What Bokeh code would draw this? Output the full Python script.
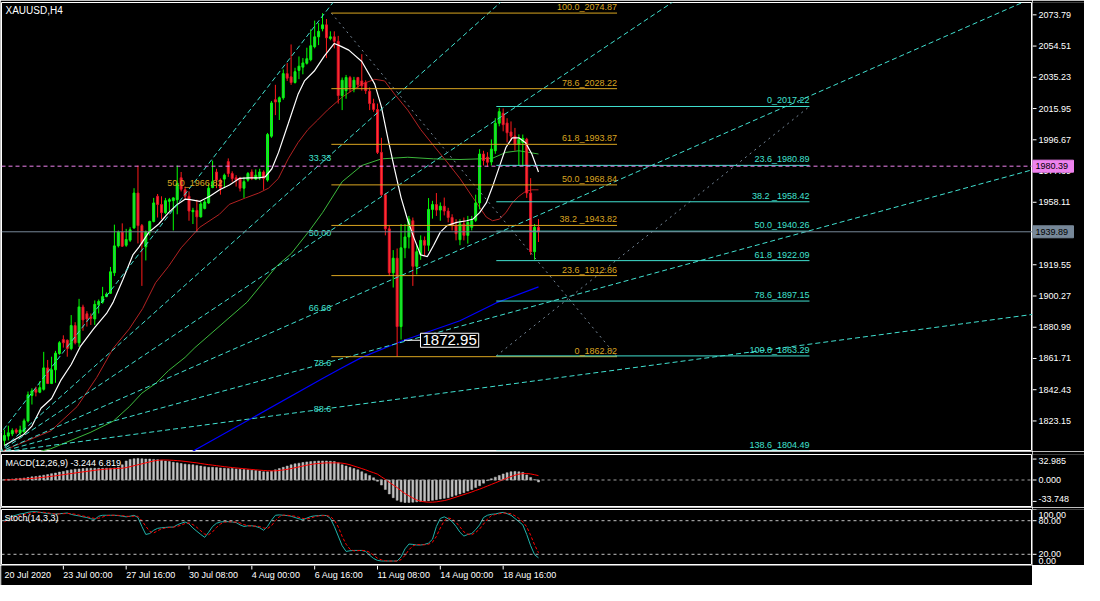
from bokeh.plotting import figure
from bokeh.layouts import column, row
from bokeh.models import ColumnDataSource, FixedTicker, Range1d, Label, Span
from bokeh.embed import file_html
from bokeh.resources import INLINE
from bokeh.core.properties import value

# ---------------- data ----------------
chart_title = "XAUUSD,H4"

opens = [
    1811.2, 1813.8, 1815.2, 1817.6, 1815.8, 1816.6, 1823.2, 1838.9, 1842.7, 1840.9,
    1842.7, 1855.9, 1846.3, 1854.7, 1864.8, 1873.4, 1873.0, 1867.8, 1882.0, 1871.4,
    1893.5, 1889.3, 1887.5, 1886.1, 1894.9, 1896.5, 1899.9, 1901.9, 1914.6, 1931.2,
    1939.7, 1931.6, 1934.7, 1942.3, 1963.8, 1943.7, 1930.6, 1939.7, 1946.3, 1961.8,
    1956.7, 1951.7, 1958.7, 1959.1, 1959.7, 1973.2, 1965.8, 1961.8, 1952.3, 1953.1,
    1949.1, 1954.3, 1957.7, 1967.2, 1976.8, 1971.8, 1972.4, 1983.2, 1975.8, 1973.2,
    1972.8, 1966.8, 1971.8, 1976.8, 1972.4, 1973.8, 1976.8, 1971.8, 1998.9, 2021.4,
    2020.0, 2022.6, 2037.5, 2035.5, 2032.0, 2039.5, 2041.5, 2043.9, 2046.1, 2054.1,
    2060.2, 2065.2, 2067.6, 2059.2, 2060.2, 2057.5, 2024.0, 2027.0, 2035.1, 2028.0,
    2035.1, 2033.0, 2032.0, 2026.6, 2019.0, 2015.4, 1988.9, 1962.8, 1941.7, 1914.6,
    1923.6, 1881.4, 1930.0, 1936.7, 1946.7, 1918.6, 1926.0, 1934.6, 1931.6, 1953.7,
    1956.7, 1953.3, 1955.7, 1952.7, 1948.7, 1943.7, 1935.0, 1944.7, 1937.7, 1942.7,
    1947.0, 1957.7, 1987.9, 1986.0, 1983.0, 1989.9, 2006.9, 2013.0, 2007.0, 2001.5,
    1999.0, 1994.0, 1995.0, 1997.0, 1963.8, 1927.6, 1942.7]
highs = [
    1817.8, 1820.2, 1818.6, 1818.6, 1820.2, 1824.6, 1841.3, 1843.3, 1844.3, 1847.7,
    1865.8, 1860.8, 1862.8, 1866.4, 1872.4, 1876.0, 1873.4, 1888.5, 1884.1, 1898.5,
    1894.9, 1890.9, 1889.5, 1897.5, 1898.1, 1905.9, 1902.5, 1918.2, 1944.3, 1940.7,
    1945.1, 1941.7, 1942.7, 1966.8, 1980.8, 1944.7, 1940.7, 1946.7, 1960.8, 1963.2,
    1961.8, 1960.8, 1960.8, 1961.2, 1980.8, 1976.8, 1967.8, 1964.8, 1954.7, 1959.7,
    1958.7, 1959.7, 1969.8, 1983.8, 1978.8, 1972.8, 1975.8, 1985.2, 1977.2, 1974.8,
    1973.8, 1973.8, 1976.8, 1978.4, 1978.4, 1978.8, 1977.8, 2000.9, 2020.6, 2030.6,
    2023.4, 2040.1, 2044.1, 2055.5, 2041.1, 2048.1, 2047.1, 2053.5, 2064.8, 2070.2,
    2068.8, 2074.8, 2071.2, 2063.6, 2063.6, 2060.8, 2035.1, 2036.7, 2036.1, 2035.5,
    2035.5, 2049.5, 2033.4, 2029.0, 2022.0, 2019.0, 1997.9, 1963.8, 1943.7, 1928.6,
    1929.6, 1944.7, 1944.7, 1949.7, 1948.7, 1931.6, 1937.7, 1937.0, 1960.7, 1959.0,
    1963.8, 1958.0, 1961.0, 1954.7, 1950.7, 1947.7, 1947.7, 1948.7, 1949.7, 1949.7,
    1962.8, 1990.9, 1989.9, 1989.0, 1996.9, 2010.0, 2016.4, 2016.0, 2010.0, 2008.0,
    2004.0, 2000.0, 1999.9, 1997.9, 1973.0, 1944.7, 1947.7]
lows = [
    1808.1, 1811.2, 1813.8, 1815.2, 1814.2, 1815.2, 1822.2, 1833.3, 1838.3, 1840.3,
    1841.9, 1845.9, 1845.9, 1846.7, 1864.0, 1868.4, 1862.8, 1866.8, 1870.4, 1868.8,
    1878.8, 1881.4, 1882.4, 1882.4, 1889.5, 1895.5, 1899.5, 1901.5, 1912.6, 1930.2,
    1930.6, 1930.6, 1933.6, 1941.7, 1932.7, 1906.5, 1922.2, 1937.7, 1945.7, 1948.7,
    1947.7, 1950.7, 1952.7, 1940.7, 1950.7, 1964.8, 1959.7, 1946.7, 1944.7, 1939.7,
    1948.7, 1953.7, 1957.1, 1966.8, 1966.8, 1962.8, 1966.8, 1973.8, 1970.8, 1967.8,
    1964.8, 1960.8, 1970.8, 1971.8, 1971.8, 1971.8, 1965.8, 1970.8, 1997.9, 2011.9,
    2008.9, 2021.4, 2033.0, 2030.6, 2031.4, 2034.1, 2037.1, 2043.1, 2045.1, 2053.1,
    2055.1, 2063.6, 2047.1, 2058.1, 2053.1, 2019.0, 2015.0, 2022.0, 2026.0, 2026.0,
    2028.6, 2027.0, 2025.0, 2015.0, 2014.0, 1987.9, 1961.8, 1937.7, 1912.6, 1905.5,
    1862.8, 1873.4, 1923.6, 1929.6, 1906.5, 1913.6, 1922.6, 1925.0, 1928.0, 1948.0,
    1949.7, 1946.7, 1950.0, 1945.7, 1940.7, 1934.6, 1931.6, 1934.6, 1932.6, 1940.7,
    1946.0, 1953.7, 1980.8, 1980.0, 1980.8, 1988.0, 2005.0, 2001.9, 1995.0, 1996.0,
    1990.0, 1980.8, 1980.8, 1960.8, 1925.6, 1922.6, 1933.6]
closes = [
    1814.2, 1815.8, 1817.2, 1816.2, 1817.6, 1823.2, 1839.3, 1841.7, 1840.9, 1843.7,
    1855.9, 1846.3, 1854.7, 1865.0, 1871.4, 1871.4, 1867.8, 1882.0, 1871.4, 1893.5,
    1885.5, 1886.1, 1886.5, 1895.1, 1896.9, 1899.9, 1901.5, 1915.2, 1931.2, 1939.7,
    1931.0, 1935.1, 1941.1, 1963.8, 1943.7, 1932.7, 1939.7, 1946.3, 1957.7, 1956.7,
    1951.7, 1959.1, 1959.7, 1960.8, 1969.8, 1966.2, 1961.8, 1952.7, 1953.1, 1949.1,
    1957.1, 1958.3, 1966.8, 1970.8, 1971.8, 1966.8, 1974.8, 1975.8, 1972.8, 1971.8,
    1966.8, 1970.8, 1975.8, 1972.8, 1974.8, 1976.8, 1972.8, 1999.9, 2019.4, 2020.0,
    2022.6, 2037.5, 2034.7, 2032.0, 2038.7, 2042.1, 2044.1, 2046.7, 2054.7, 2060.2,
    2063.6, 2067.6, 2059.6, 2060.2, 2057.5, 2024.0, 2033.4, 2035.1, 2029.0, 2033.4,
    2030.6, 2030.0, 2027.0, 2019.0, 2015.4, 1988.9, 1962.8, 1941.7, 1914.6, 1923.6,
    1881.4, 1930.0, 1936.7, 1947.7, 1918.6, 1927.6, 1934.6, 1931.6, 1953.7, 1956.7,
    1953.3, 1955.7, 1952.7, 1948.7, 1943.7, 1938.7, 1944.7, 1937.7, 1945.7, 1946.7,
    1957.7, 1987.9, 1983.9, 1982.8, 1990.9, 2006.9, 2014.0, 2006.0, 2001.0, 1998.9,
    1993.9, 1996.9, 1997.5, 1963.8, 1927.6, 1942.7, 1939.89]

# moving averages (sampled points: bar index, price)
ma_white_x = [0, 5, 7, 9.3, 12, 14.3, 17, 19.3, 22.7, 26, 27.7, 30.2, 32.7, 34.3, 36.8, 39.3,
              41.8, 44, 46, 47.3, 49.8, 52.3, 54.8, 57.3, 59.8, 62.3, 64.8, 66.4, 68.1, 69.8,
              72.3, 74.8, 76.4, 78.9, 81.4, 84, 85.6, 87.7, 91, 94.3, 96, 97.7, 99.3, 101,
              102.7, 104.3, 106, 107.7, 109.3, 111, 112.7, 115.2, 117.7, 119.3, 121, 122.7,
              124.3, 126, 127.7, 129.3, 131, 132.7, 134.3, 136]
ma_white_y = [1808, 1815, 1820, 1831, 1837, 1848, 1858, 1869, 1880, 1889.5, 1896.5, 1910.6,
              1925.6, 1930.6, 1939.7, 1944.7, 1951.7, 1956.7, 1960, 1959.8, 1958.7, 1961.8,
              1965.8, 1968.8, 1972.8, 1973.2, 1973.2, 1973.8, 1978.8, 1988.9, 2006.9, 2025.0,
              2033.0, 2039.1, 2048.1, 2056.1, 2054.5, 2052, 2045, 2031, 2017, 1997, 1979, 1961,
              1947, 1936, 1925.6, 1924.6, 1931.6, 1939.7, 1943.7, 1945.7, 1946.7, 1947.7,
              1951.7, 1957.7, 1967.8, 1979.8, 1991.9, 1997.9, 1997.9, 1994.9, 1987.9, 1976.8]
ma_red_x = [-0.75, 11.8, 18.5, 23.5, 27.7, 31.8, 35.2, 38.5, 41.8, 45, 49.75, 54.75, 57.25,
            61.4, 64.75, 67.25, 69.75, 72.25, 74.75, 77.25, 79.75, 82.25, 86, 91, 94.3, 96.8,
            99.3, 102.7, 106, 109.3, 112.7, 116, 119.3, 122.7, 124.3, 126, 127.7, 129.3, 131,
            132.7, 134.3, 136]
ma_red_y = [1804.4, 1817, 1832, 1850, 1868, 1880, 1892.5, 1908.5, 1918.6, 1930, 1942.7, 1950.7,
            1956.8, 1960.8, 1963.8, 1966.8, 1972.8, 1984.9, 1994.9, 2002.9, 2008.9, 2015, 2023,
            2031, 2034, 2033, 2025, 2015, 2003, 1993, 1983, 1972.8, 1961, 1949, 1946.7, 1947.7,
            1951.7, 1957.7, 1961.8, 1964.8, 1965.8, 1965.8]
ma_green_x = [9.3, 11.8, 21.8, 27.7, 31.8, 35, 38.5, 41.8, 46, 48.5, 61.8, 69.3, 73.1, 77.7,
              81, 86, 91, 96, 102.7, 109.3, 116, 121, 124.3, 127.7, 131, 136]
ma_green_y = [1804.5, 1806, 1816, 1823, 1832, 1840.3, 1846.3, 1854.3, 1862.4, 1868.4, 1896.5,
              1918.6, 1926.6, 1940.7, 1951.7, 1970.8, 1980.8, 1984.9, 1985.9, 1984.9, 1984.5,
              1984.9, 1985.3, 1988.9, 1989.9, 1987.9]
ma_blue_x = [47.7, 81, 86, 91, 101.75, 116, 125.2, 136]
ma_blue_y = [1804.1, 1849.3, 1856, 1862.4, 1872.95, 1885, 1896, 1905.9]
ma_blue_mark_bar = 101.75
ma_blue_mark_text = "1872.95"
ma_blue_mark_value = 1872.95

# MACD(12,26,9): main (histogram) and signal
macd_main = [
    0.5, 1.0, 1.5, 2.0, 2.5, 3.0, 4.0, 5.0, 5.5, 6.5, 7.5, 8.5, 10.0, 11.0,
    12.5, 13.5, 15.0, 16.0,
    17.0, 17.5, 18.0, 18.5, 18.5, 18.5, 18.5, 18.5, 18.5, 18.5, 19.0, 20.0, 24.0,
    30.0, 32.5, 33.5, 34.0, 33.5, 33.0, 33.0, 32.5, 32.0, 31.0,
    30.0, 29.0, 28.0, 27.0, 26.0, 25.0, 24.5, 24.0,
    23.0, 22.0, 21.0, 20.0, 20.0, 19.5, 19.0, 18.5, 18.0, 18.0, 17.5, 17.0, 16.5,
    16.0, 15.5, 15.0, 14.0, 13.0, 13.0, 14.0, 16.0,
    18.0, 20.0, 22.0, 24.0, 25.5, 26.5, 27.5, 28.5, 29.0, 29.5,
    30.0, 30.0, 30.0, 29.5, 29.0, 27.0,
    24.0, 22.0, 20.0, 18.0, 16.0, 13.0, 10.0, 7.0, 3.5,
    -2.0, -8.0, -15.0, -22.0, -28.0, -32.0,
    -34.5, -35.5, -35.5, -35.0, -34.5,
    -34.0, -33.5, -33.0, -32.0, -31.0, -30.0, -29.0, -28.0,
    -26.0, -24.0, -22.0, -20.0, -17.5, -15.0, -12.0, -9.0,
    -5.0, -1.0,
    2.0, 4.5, 7.0, 9.5, 11.5, 13.0, 13.5, 13.0, 12.0,
    8.0, 4.0, 0.5, -3.244]
macd_signal = [
    0.0, 0.3, 0.6, 1.0, 1.3, 1.7, 2.0, 2.5,
    3.0, 3.6, 4.2, 5.0, 5.8, 6.6, 7.5, 8.4, 9.3,
    10.2, 11.0, 12.0, 12.8, 13.6, 14.4, 15.2, 16.0, 16.6, 17.2, 17.6, 18.0, 18.3, 18.6,
    19.5, 21.0, 22.5, 24.0, 25.5, 27.0, 28.5, 30.0, 31.0, 31.5,
    31.5, 31.3, 31.0, 30.5, 30.0, 29.3, 28.5, 27.7,
    27.0, 26.0, 25.0, 24.2, 23.4, 22.6, 21.8, 21.0, 20.3, 19.6, 19.0, 18.4, 17.8,
    17.2, 16.6, 16.0, 15.5, 15.0, 14.6, 14.4, 14.5,
    15.0, 15.8, 16.8, 18.0, 19.3, 20.6, 22.0, 23.3, 24.5, 25.5,
    26.0, 26.5, 27.0, 27.0,
    27.0, 27.0, 26.5, 25.5, 24.0,
    22.0, 20.0, 18.0, 16.0, 13.5, 11.5, 9.2,
    5.0, 1.0, -3.6, -8.0, -12.0, -17.0,
    -21.4, -25.0, -28.5, -31.6, -33.5, -34.5, -35.0,
    -35.0, -34.5, -33.5, -32.5, -31.0, -29.0,
    -27.0, -25.0, -23.0, -21.0, -19.0, -16.5, -14.5,
    -12.0, -9.5, -7.0, -4.5, -2.0, 0.5,
    3.0, 5.5, 7.5, 9.2, 10.0, 10.2, 9.5, 8.3, 6.819]
macd_title = "MACD(12,26,9) -3.244 6.819"

# Stochastic(14,3,3)
stoch_k = [
    80, 84, 88, 90, 92, 93, 95, 96, 96, 95, 94, 93, 92, 92,
    92.6, 93, 93.7, 91.4, 89.7, 88.6, 86.9, 85.7, 83.4, 82.3,
    88, 89.7, 89.7, 89.7, 89.7, 89.1, 88, 86.9, 88, 89.7, 85.7,
    69.7, 55.4, 57.1, 62.9, 66.3, 67.4, 68, 68.6, 68.6, 72.6, 75.4, 77.7,
    74.3, 66.9, 61.1, 55.4, 50.3, 59.4, 69.7, 75.4, 77.7, 78.3,
    78.3, 77.7, 76.6, 72.6, 69.7, 70.9, 70.9, 69.7, 67.4, 62.9, 69.7,
    81, 89.7, 90.3, 89.7, 89.1, 88, 85.7, 83.4, 81.7, 84.6, 87.4,
    88.6, 89.1, 89.7, 89.1, 84, 69.7, 52.6, 35.4,
    25.1, 26.3, 26.9, 26.9, 26.9, 25.1, 18.3, 12.6, 9.1, 8, 8, 8, 8, 8,
    15.4, 29.7, 38.3, 37.7, 36.6, 36.6, 37.7, 40, 46.9, 69.7,
    84, 86.9, 83.4, 78.3, 69.7, 59.4, 52.6, 55.4, 57.1, 64, 72.6,
    85.7, 89.7, 91.4, 92, 93.7, 94.9, 92.6, 89.7, 84, 78.3, 72.6, 55.4, 35.4, 19.4, 13.7]
stoch_d = [
    78, 82, 85, 88, 90, 91, 93, 94, 95, 95, 95, 94, 93, 92,
    92, 92.5, 93, 92.5, 91.5, 90, 88.5, 87, 85.5, 84,
    84.5, 86.5, 89, 89.7, 89.7, 89.5, 89, 88, 87.6, 88, 88,
    80, 70, 61, 58, 62, 65.5, 67, 68, 68.4, 70, 72, 75,
    76, 73, 68, 62, 56, 55, 60, 68, 74, 77.5,
    78, 78, 77.5, 76, 73, 71, 70.5, 70.5, 69.5, 67, 66,
    71, 80, 87, 90, 89.7, 89, 88, 86, 84, 83, 84.5,
    87, 88.5, 89, 89.3, 87.5, 81, 69, 52,
    38, 29, 26, 26.5, 27, 26.5, 23.5, 18.5, 13, 10, 8.5, 8, 8, 8,
    10.5, 18, 28, 35, 37.5, 37, 37, 38, 41.5, 52,
    67, 80, 85, 83, 77, 69, 60, 56, 55, 59, 65,
    74, 83, 89, 91, 92.4, 93.5, 93.7, 92.4, 88.8, 84, 78, 69, 54, 37, 22.8]
stoch_title = "Stoch(14,3,3)"
stoch_levels = [80, 20]

# axes
price_ticks = [2073.79, 2054.51, 2035.23, 2015.95, 1996.67, 1977.39, 1958.11, 1938.83,
               1919.55, 1900.27, 1880.99, 1861.71, 1842.43, 1823.15]
macd_ticks = [32.985, 0.0, -33.748]
stoch_ticks = [100, 80, 20, 0]
time_tick_bars = [0, 15, 31, 47, 63, 79, 95, 111, 127]
time_tick_labels = ["20 Jul 2020", "23 Jul 00:00", "27 Jul 16:00", "30 Jul 08:00", "4 Aug 00:00",
                    "6 Aug 16:00", "11 Aug 08:00", "14 Aug 00:00", "18 Aug 16:00"]

# horizontal price lines
bid_price = 1939.89
alert_price = 1980.39

# Fibonacci retracement 1 (orange)
fib1_start, fib1_end = 83.25, 156.0
fib1_prices = [2074.87, 2028.22, 1993.87, 1968.84, 1943.82, 1912.86, 1862.82]
fib1_labels = ["100.0_2074.87", "78.6_2028.22", "61.8_1993.87", "50.0_1968.84",
               "38.2 _1943.82", "23.6_1912.86", "0_1862.82"]
fib1_diag = ([83.25, 156.0], [2074.87, 1862.82])
# Fibonacci retracement 2 (cyan)
fib2_start, fib2_end = 125.25, 205.0
fib2_prices = [2017.22, 1980.89, 1958.42, 1940.26, 1922.09, 1897.15, 1863.29, 1804.49]
fib2_labels = ["0_2017.22", "23.6_1980.89", "38.2 _1958.42", "50.0_1940.26", "61.8_1922.09",
               "78.6_1897.15", "100.0_1863.29", "138.6_1804.49"]
fib2_diag = ([125.25, 205.0], [1863.29, 2017.22])
fib_small_label = "50.0_1966.82"
fib_small_bar, fib_small_price = 55.5, 1966.82

# Fibonacci fan (cyan dashed)
fan_origin = (-1.5, 1803.7)
fan_ref_bar = 82.25
fan_ref_prices = [1985.7, 1939.3, 1892.9, 1859.2, 1830.8]
fan_labels = ["33.33", "50.00", "66.66", "78.6", "88.6"]
trend_line = ([-1.5, 81.75], [1813.9, 2075.4])

# ---------------- styling ----------------
FONT = "Liberation Sans"
W_PLOT = 1032
W_AX = 52
X0, X1 = -0.75, 261.8
PY0, PY1 = 1804.3, 2081.4
MY0, MY1 = -43.4, 40.2
SY0, SY1 = 0.0, 100.0
CYAN = "#40E0D0"
ORANGE = "#DAA520"
GRAYL = "#778899"
MAGENTA = "#EE82EE"

xr = Range1d(X0, X1)


def panel(h, yr, top):
    f = figure(width=W_PLOT, height=h, x_range=xr, y_range=yr,
               output_backend="svg", toolbar_location=None,
               x_axis_location=None, y_axis_location=None,
               min_border_left=1, min_border_right=0, min_border_top=top,
               min_border_bottom=0, background_fill_color="black",
               border_fill_color="black", outline_line_color="white",
               outline_line_width=1)
    f.grid.visible = False
    return f


def axis_panel(h, yr, top, ticks, fmt, offsets):
    a = figure(width=W_AX, height=h, x_range=Range1d(0, W_AX), y_range=yr,
               output_backend="svg", toolbar_location=None,
               x_axis_location=None, y_axis_location=None,
               min_border_left=0, min_border_right=0, min_border_top=top,
               min_border_bottom=0, background_fill_color="black",
               border_fill_color="black", outline_line_color=None)
    a.grid.visible = False
    a.segment(x0=[0] * len(ticks), x1=[4] * len(ticks), y0=ticks, y1=ticks,
              line_color="white", line_width=1)
    src = ColumnDataSource(dict(x=[6] * len(ticks), y=ticks, t=[fmt % v for v in ticks],
                                dy=offsets))
    a.text(x="x", y="y", text="t", y_offset="dy", source=src, text_color="white",
           text_font=value(FONT), text_font_size="9px", text_align="left",
           text_baseline="middle")
    return a


def tag(a, yr, frame_h, price, color):
    half = 6.0 * (yr.end - yr.start) / frame_h
    a.quad(left=[0], right=[41], top=[price + half], bottom=[price - half],
           fill_color=color, line_color=color)
    a.text(x=[3], y=[price], text=[f"{price:.2f}"], text_color="black",
           text_font=value(FONT), text_font_size="9px", text_align="left",
           text_baseline="middle")


n = len(opens)
bars = list(range(n))

# ---------------- main price panel ----------------
MAIN_H, MAIN_TOP = 451, 2
pyr = Range1d(PY0, PY1)
p = panel(MAIN_H, pyr, MAIN_TOP)

p.line(ma_green_x, ma_green_y, line_color="#3CB83C", line_width=1)
p.line(ma_red_x, ma_red_y, line_color="#B22222", line_width=1)
p.line(ma_blue_x, ma_blue_y, line_color="#0000FF", line_width=1.2)

up = [i for i in bars if closes[i] >= opens[i]]
dn = [i for i in bars if closes[i] < opens[i]]
src_up = ColumnDataSource(dict(x=up, top=[closes[i] for i in up], bot=[opens[i] for i in up],
                               hi=[highs[i] for i in up], lo=[lows[i] for i in up]))
src_dn = ColumnDataSource(dict(x=dn, top=[opens[i] for i in dn], bot=[closes[i] for i in dn],
                               hi=[highs[i] for i in dn], lo=[lows[i] for i in dn]))
p.segment(x0="x", y0="lo", x1="x", y1="hi", source=src_up, line_color="#00FF00", line_width=1)
p.segment(x0="x", y0="lo", x1="x", y1="hi", source=src_dn, line_color="#FF1A1A", line_width=1)
p.vbar(x="x", top="top", bottom="bot", width=0.5, source=src_up,
       fill_color="#2EC45A", line_color="#00FF00", line_width=1)
p.vbar(x="x", top="top", bottom="bot", width=0.5, source=src_dn,
       fill_color="#FF3B2F", line_color="#E0102A", line_width=1)

p.line(ma_white_x, ma_white_y, line_color="white", line_width=1.2)

p.add_layout(Span(location=bid_price, dimension="width", line_color=GRAYL, line_width=1))
p.add_layout(Span(location=alert_price, dimension="width", line_color=MAGENTA,
                  line_width=1, line_dash="4 3"))

ox, oy = fan_origin
for pr in fan_ref_prices:
    slope = (pr - oy) / (fan_ref_bar - ox)
    p.line([ox, 300], [oy, oy + slope * (300 - ox)], line_color=CYAN, line_width=1,
           line_dash="5 3")
tx, ty = trend_line
tslope = (ty[1] - ty[0]) / (tx[1] - tx[0])
p.line([tx[0], 120], [ty[0], ty[0] + tslope * (120 - tx[0])], line_color=CYAN,
       line_width=1, line_dash="5 3")
p.text(x=[fan_ref_bar + 1] * len(fan_labels), y=fan_ref_prices, text=fan_labels,
       text_color=CYAN, text_font=value(FONT), text_font_size="9px",
       text_align="right", text_baseline="middle")

p.line(fib1_diag[0], fib1_diag[1], line_color=GRAYL, line_width=1, line_dash="2 4")
p.line(fib2_diag[0], fib2_diag[1], line_color=GRAYL, line_width=1, line_dash="2 4")

p.segment(x0=[fib1_start] * len(fib1_prices), x1=[fib1_end] * len(fib1_prices),
          y0=fib1_prices, y1=fib1_prices, line_color=ORANGE, line_width=1)
p.segment(x0=[fib2_start] * len(fib2_prices), x1=[fib2_end] * len(fib2_prices),
          y0=fib2_prices, y1=fib2_prices, line_color=CYAN, line_width=1)
p.text(x=[fib1_end] * len(fib1_prices), y=fib1_prices, text=fib1_labels,
       text_color=ORANGE, text_font=value(FONT), text_font_size="9px",
       text_align="right", text_baseline="bottom", y_offset=-1)
p.text(x=[fib2_end] * len(fib2_prices), y=fib2_prices, text=fib2_labels,
       text_color=CYAN, text_font=value(FONT), text_font_size="9px",
       text_align="right", text_baseline="bottom", y_offset=-1)
p.text(x=[fib_small_bar], y=[fib_small_price], text=[fib_small_label],
       text_color=ORANGE, text_font=value(FONT), text_font_size="9px",
       text_align="right", text_baseline="bottom")

p.line([ma_blue_mark_bar, ma_blue_mark_bar + 4.2], [ma_blue_mark_value] * 2,
       line_color="white", line_width=1)
p.add_layout(Label(x=ma_blue_mark_bar + 4.2, y=ma_blue_mark_value, text=ma_blue_mark_text,
                   text_color="white", text_font=FONT, text_font_size="15px",
                   text_align="left", text_baseline="middle",
                   background_fill_color="black", border_line_color="white", padding=2))
p.add_layout(Label(x=X0, y=PY1, x_offset=4, text=chart_title, text_color="white",
                   text_font=FONT, text_font_size="10px", text_align="left",
                   text_baseline="top", y_offset=-2))

pa = axis_panel(MAIN_H, pyr, MAIN_TOP, price_ticks, "%.2f", [0] * len(price_ticks))
tag(pa, pyr, MAIN_H - MAIN_TOP, alert_price, MAGENTA)
tag(pa, pyr, MAIN_H - MAIN_TOP, bid_price, GRAYL)

# ---------------- MACD panel ----------------
MACD_H, MACD_TOP = 56, 3
myr = Range1d(MY0, MY1)
m = panel(MACD_H, myr, MACD_TOP)
m.add_layout(Span(location=0, dimension="width", line_color="#A0A0A0", line_width=1,
                  line_dash="3 3"))
m.vbar(x=bars, top=macd_main, bottom=0, width=0.5, fill_color="#C0C0C0",
       line_color="#C0C0C0", line_width=0.5)
m.line(bars, macd_signal, line_color="red", line_width=1)
m.add_layout(Label(x=X0, y=MY1, x_offset=4, text=macd_title, text_color="white",
                   text_font=FONT, text_font_size="9px", text_align="left",
                   text_baseline="top", y_offset=-3))
ma_ax = axis_panel(MACD_H, myr, MACD_TOP, macd_ticks, "%.3f", [2, 0, -2])

# ---------------- Stochastic panel ----------------
ST_H, ST_TOP = 58, 2
syr = Range1d(SY0, SY1)
s = panel(ST_H, syr, ST_TOP)
for lv in stoch_levels:
    s.add_layout(Span(location=lv, dimension="width", line_color="#C0C0C0", line_width=1,
                      line_dash="3 3"))
s.line(bars, stoch_k, line_color="#20B2AA", line_width=1)
s.line(bars, stoch_d, line_color="red", line_width=1, line_dash="3 2")
s.add_layout(Label(x=X0, y=SY1, x_offset=3, text=stoch_title, text_color="white",
                   text_font=FONT, text_font_size="9px", text_align="left",
                   text_baseline="top", y_offset=-3))
sa = axis_panel(ST_H, syr, ST_TOP, stoch_ticks, "%.2f", [5, 0, 0, -5])

# ---------------- time axis strip ----------------
t = figure(width=W_PLOT, height=20, x_range=xr, y_range=Range1d(20, 0),
           output_backend="svg", toolbar_location=None,
           x_axis_location=None, y_axis_location=None,
           min_border_left=1, min_border_right=0, min_border_top=0, min_border_bottom=0,
           background_fill_color="black", border_fill_color="black", outline_line_color=None)
t.grid.visible = False
t.segment(x0=time_tick_bars[1:], x1=time_tick_bars[1:], y0=[0] * 8, y1=[4] * 8,
          line_color="white", line_width=1)
t.text(x=time_tick_bars, y=[4] * len(time_tick_bars), text=time_tick_labels,
       text_color="white", text_font=value(FONT), text_font_size="9px",
       text_align="left", text_baseline="top")

layout = column(row(p, pa, spacing=0), row(m, ma_ax, spacing=0), row(s, sa, spacing=0), t,
                spacing=0)
open("out.html", "w").write(file_html(layout, INLINE))
